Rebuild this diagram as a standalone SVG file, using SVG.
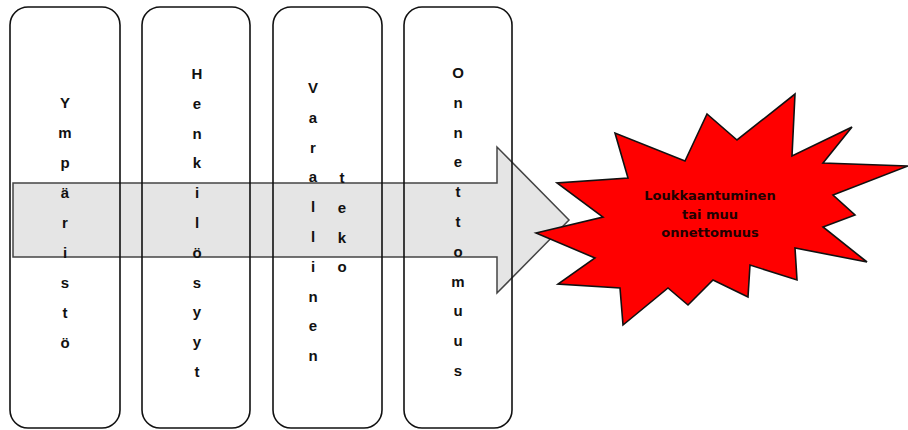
<svg xmlns="http://www.w3.org/2000/svg" width="908" height="430" viewBox="0 0 908 430">
<style>
.box{fill:none;stroke:#111;stroke-width:1.6}
.col{font-family:"Liberation Sans",Arial,sans-serif;font-weight:bold;font-size:15px;fill:#111;text-anchor:middle}
.burst{fill:#ff0000;stroke:#111;stroke-width:1.6;stroke-linejoin:miter}
.btxt{font-family:"DejaVu Sans","Liberation Sans",sans-serif;font-weight:bold;font-size:13px;fill:#220000;text-anchor:middle}
</style>
<rect width="908" height="430" fill="#fff"/>
<g id="connectors">
<polygon points="13,183 497,183 497,147 569,220 497,293 497,257 13,257" fill="#e5e5e5" stroke="#444" stroke-width="1.5"/>
</g>
<g id="node-ymparisto">
<rect class="box" x="10" y="7" width="110" height="421" rx="18"/>
<text class="col" x="65" y="108"><tspan x="65" dy="0">Y</tspan><tspan x="65" dy="30">m</tspan><tspan x="65" dy="30">p</tspan><tspan x="65" dy="30">ä</tspan><tspan x="65" dy="30">r</tspan><tspan x="65" dy="30">i</tspan><tspan x="65" dy="30">s</tspan><tspan x="65" dy="30">t</tspan><tspan x="65" dy="30">ö</tspan></text>
</g>
<g id="node-henkilosyyt">
<rect class="box" x="142" y="7" width="108" height="421" rx="18"/>
<text class="col" x="197" y="79"><tspan x="197" dy="0">H</tspan><tspan x="197" dy="29.8">e</tspan><tspan x="197" dy="29.8">n</tspan><tspan x="197" dy="29.8">k</tspan><tspan x="197" dy="29.8">i</tspan><tspan x="197" dy="29.8">l</tspan><tspan x="197" dy="29.8">ö</tspan><tspan x="197" dy="29.8">s</tspan><tspan x="197" dy="29.8">y</tspan><tspan x="197" dy="29.8">y</tspan><tspan x="197" dy="29.8">t</tspan></text>
</g>
<g id="node-varallinen-teko">
<rect class="box" x="273" y="7" width="109" height="421" rx="18"/>
<text class="col" x="313" y="93"><tspan x="313" dy="0">V</tspan><tspan x="313" dy="29.8">a</tspan><tspan x="313" dy="29.8">r</tspan><tspan x="313" dy="29.8">a</tspan><tspan x="313" dy="29.8">l</tspan><tspan x="313" dy="29.8">l</tspan><tspan x="313" dy="29.8">i</tspan><tspan x="313" dy="29.8">n</tspan><tspan x="313" dy="29.8">e</tspan><tspan x="313" dy="29.8">n</tspan></text>
<text class="col" x="342" y="183"><tspan x="342" dy="0">t</tspan><tspan x="342" dy="29.8">e</tspan><tspan x="342" dy="29.8">k</tspan><tspan x="342" dy="29.8">o</tspan></text>
</g>
<g id="node-onnettomuus">
<rect class="box" x="404" y="7" width="108" height="421" rx="18"/>
<text class="col" x="458" y="78"><tspan x="458" dy="0">O</tspan><tspan x="458" dy="29.8">n</tspan><tspan x="458" dy="29.8">n</tspan><tspan x="458" dy="29.8">e</tspan><tspan x="458" dy="29.8">t</tspan><tspan x="458" dy="29.8">t</tspan><tspan x="458" dy="29.8">o</tspan><tspan x="458" dy="29.8">m</tspan><tspan x="458" dy="29.8">u</tspan><tspan x="458" dy="29.8">u</tspan><tspan x="458" dy="29.8">s</tspan></text>
</g>
<g id="node-loukkaantuminen">
<polygon class="burst" points="536,233 603,217 557,183 628,178 615,133 685,161 707,114 737,140 795,94 792,156 852,127 823,163 908,166 833,195 855,215 823,227 867,262 795,248 797,280 750,265 748,297 713,280 688,305 668,288 623,325 620,288 558,284 595,258"/>
<text class="btxt" x="710" y="200"><tspan x="710" dy="0">Loukkaantuminen</tspan><tspan x="710" dy="18.5">tai muu</tspan><tspan x="710" dy="18.5">onnettomuus</tspan></text>
</g>
</svg>
